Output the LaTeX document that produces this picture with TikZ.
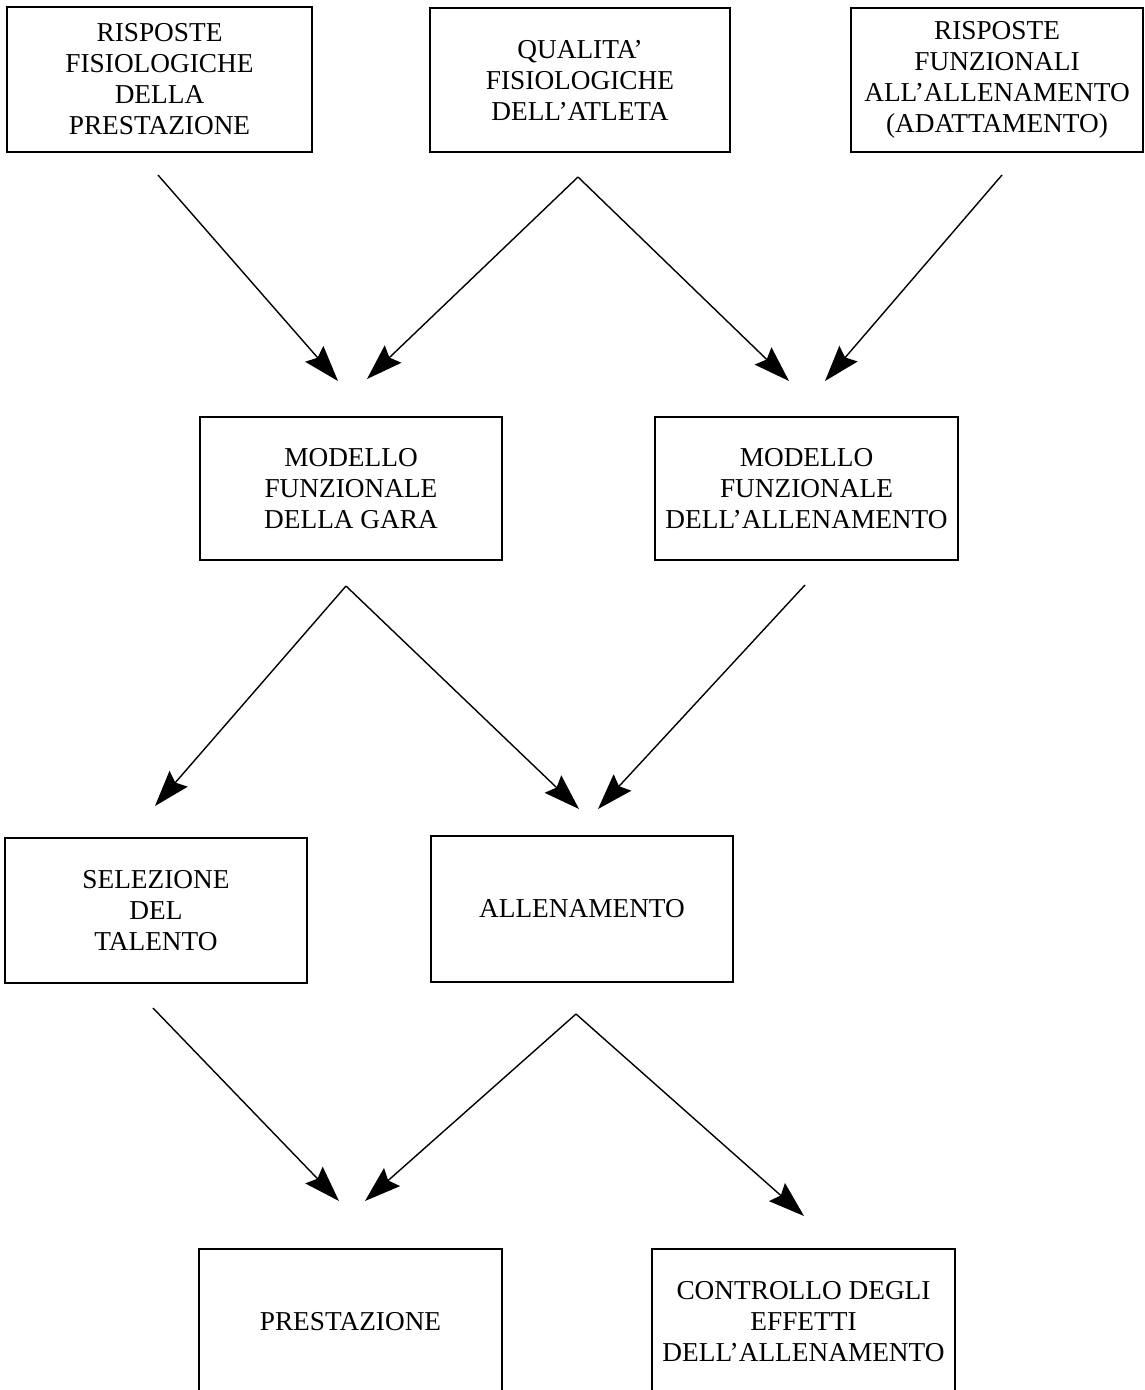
\documentclass[tikz,border=0pt]{standalone}
\usepackage{fontspec}
\setmainfont{Liberation Serif}
\usetikzlibrary{arrows.meta}
\begin{document}
\begin{tikzpicture}[x=1pt,y=-1pt,
  box/.style={draw, line width=1.4pt, align=center, inner sep=0pt,
    font=\fontsize{27.3}{31}\selectfont},
  arr/.style={line width=1.4pt, -{Stealth[length=36pt,width=24pt,inset=5pt]}}]
\useasboundingbox (0,0) rectangle (1144,1390);
\clip (0,0) rectangle (1144,1390);
% top row
\node[box, minimum width=305pt, minimum height=145pt] (b1) at (159.5,79.5) {RISPOSTE\\FISIOLOGICHE\\DELLA\\PRESTAZIONE};
\node[box, minimum width=300pt, minimum height=144pt] (b2) at (580,80) {QUALITA'\\FISIOLOGICHE\\DELL'ATLETA};
\node[box, minimum width=292pt, minimum height=144pt] (b3) at (997,80) {RISPOSTE\\FUNZIONALI\\ALL'ALLENAMENTO\\(ADATTAMENTO)};
% middle row
\node[box, minimum width=302pt, minimum height=143pt] (b4) at (351,488.5) {MODELLO\\FUNZIONALE\\DELLA GARA};
\node[box, minimum width=303pt, minimum height=143pt] (b5) at (806.5,488.5) {MODELLO\\FUNZIONALE\\DELL'ALLENAMENTO};
% third row
\node[box, minimum width=302pt, minimum height=145pt] (b6) at (156,910.5) {SELEZIONE\\DEL\\TALENTO};
\node[box, minimum width=302pt, minimum height=146pt] (b7) at (582,909) {ALLENAMENTO};
% bottom row (cut at the page edge)
\node[box, minimum width=303pt, minimum height=146pt] (b8) at (350.5,1322) {PRESTAZIONE};
\node[box, minimum width=303pt, minimum height=146pt] (b9) at (803.5,1322) {CONTROLLO DEGLI\\EFFETTI\\DELL'ALLENAMENTO};
% arrow end points
\coordinate (s1) at (158,175);   \coordinate (t1) at (338,381);
\coordinate (s2) at (578,177);   \coordinate (t2) at (367,379);
                                 \coordinate (t3) at (789,381);
\coordinate (s4) at (1002,175);  \coordinate (t4) at (825,381);
\coordinate (s5) at (346,586);   \coordinate (t5) at (155,806);
                                 \coordinate (t6) at (579,809);
\coordinate (s7) at (805,585);   \coordinate (t7) at (598,809);
\coordinate (s8) at (153,1008);  \coordinate (t8) at (339,1201);
\coordinate (s9) at (576,1014);  \coordinate (t9) at (365,1201);
                                 \coordinate (t10) at (804,1216);
\draw[arr] (s1) -- (t1);
\draw[arr] (s2) -- (t2);
\draw[arr] (s2) -- (t3);
\draw[arr] (s4) -- (t4);
\draw[arr] (s5) -- (t5);
\draw[arr] (s5) -- (t6);
\draw[arr] (s7) -- (t7);
\draw[arr] (s8) -- (t8);
\draw[arr] (s9) -- (t9);
\draw[arr] (s9) -- (t10);
\end{tikzpicture}
\end{document}
